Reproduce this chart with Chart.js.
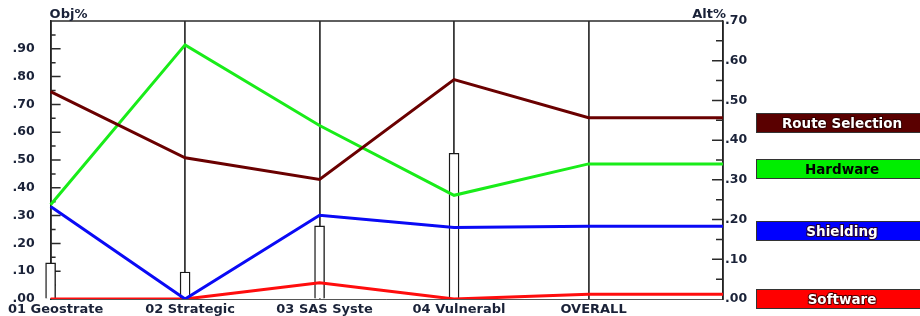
<!DOCTYPE html>
<html>
<head>
<meta charset="utf-8">
<script src="https://cdn.jsdelivr.net/npm/chart.js@4.4.1/dist/chart.umd.min.js"></script>
<style>
  html, body { margin: 0; padding: 0; background: #fff; }
  #wrap { width: 920px; height: 316px; }
</style>
</head>
<body>
<div id="wrap"><canvas id="chart" width="920" height="316"></canvas></div>
<script>
// categories (last slot has no label, OVERALL is carried to the right edge)
const categories = ['01 Geostrate', '02 Strategic', '03 SAS Syste', '04 Vulnerabl', 'OVERALL', ''];

// Obj% series (left axis)
const routeSelection = [0.746, 0.508, 0.430, 0.789, 0.652, 0.652];
const hardware       = [0.339, 0.914, 0.624, 0.373, 0.486, 0.486];
const shielding      = [0.333, 0.000, 0.301, 0.257, 0.262, 0.262];
const software       = [0.000, 0.000, 0.058, 0.000, 0.017, 0.017];

// Alt% bars (right axis)
const altBars = [9.1, 6.8, 18.4, 36.7, null, null];

// tick labels
const objTickLabels = ['.00', '.10', '.20', '.30', '.40', '.50', '.60', '.70', '.80', '.90', ''];
const altTickLabels = ['.00', '.10', '.20', '.30', '.40', '.50', '.60', '.70'];

const seriesNames  = ['Route Selection', 'Hardware', 'Shielding', 'Software'];
const lineColors   = ['#6a0000', '#19ec19', '#0a0af5', '#ff0d0d'];
const boxColors    = ['#5a0000', '#00ee00', '#0000ff', '#ff0000'];
const boxTextColor = ['#ffffff', '#000000', '#ffffff', '#ffffff'];

const navy = '#1a2238';
const labelFont = { family: '"DejaVu Sans", sans-serif', size: 12.5, weight: 'bold' };

// the y scales add tick padding to their top/bottom padding; drop it
function fitY(width) {
  return s => { s.width = width; s.paddingTop = 0; s.paddingBottom = 0; };
}

const decor = {
  id: 'decor',
  beforeDatasetsDraw(chart) {
    const { ctx, chartArea: a, scales } = chart;
    ctx.save();
    ctx.strokeStyle = '#2a2a2a';
    ctx.lineWidth = 1.5;
    // top frame line
    ctx.beginPath();
    ctx.moveTo(a.left, a.top);
    ctx.lineTo(a.right, a.top);
    ctx.stroke();
    // inward tick marks, left axis
    ctx.beginPath();
    for (let i = 1; i < 20; i++) {
      const y = scales.y.getPixelForValue(i * 0.05);
      const len = i % 2 ? 5 : 10;
      ctx.moveTo(a.left, y);
      ctx.lineTo(a.left + len, y);
    }
    // inward tick marks, right axis
    for (let i = 1; i < 14; i++) {
      const y = scales.y2.getPixelForValue(i * 5);
      const len = i % 2 ? 7 : 11;
      ctx.moveTo(a.right, y);
      ctx.lineTo(a.right - len, y);
    }
    ctx.stroke();
    ctx.restore();
  },
  afterDraw(chart) {
    const { ctx, chartArea: a } = chart;
    ctx.save();
    ctx.font = 'bold 13px "DejaVu Sans", sans-serif';
    ctx.fillStyle = navy;
    ctx.textBaseline = 'alphabetic';
    ctx.textAlign = 'left';
    ctx.fillText('Obj%', a.left - 1, 18);
    ctx.textAlign = 'right';
    ctx.fillText('Alt%', a.right + 3, 18);

    // end-of-line labels
    ctx.font = 'bold 13.5px "DejaVu Sans", sans-serif';
    ctx.textAlign = 'center';
    ctx.textBaseline = 'middle';
    for (let i = 0; i < 4; i++) {
      const meta = chart.getDatasetMeta(i);
      const pt = meta.data[meta.data.length - 1];
      const yc = Math.round(pt.y + 5);
      ctx.fillStyle = boxColors[i];
      ctx.fillRect(756, yc - 10, 180, 20);
      ctx.strokeStyle = '#333';
      ctx.lineWidth = 1;
      ctx.strokeRect(756.5, yc - 9.5, 180, 19);
      if (boxTextColor[i] === '#ffffff') {
        ctx.strokeStyle = 'rgba(40,0,0,0.8)';
        ctx.lineWidth = 2;
        ctx.strokeText(seriesNames[i], 842, yc + 1);
      }
      ctx.fillStyle = boxTextColor[i];
      ctx.fillText(seriesNames[i], 842, yc + 1);
    }
    ctx.restore();
  }
};

const lineSets = [routeSelection, hardware, shielding, software].map((d, i) => ({
  type: 'line',
  label: seriesNames[i],
  data: d,
  borderColor: lineColors[i],
  borderWidth: 3,
  pointRadius: 0,
  tension: 0,
  fill: false,
  yAxisID: 'y',
  order: 1
}));

new Chart(document.getElementById('chart'), {
  type: 'line',
  data: {
    labels: categories,
    datasets: [
      ...lineSets,
      {
        type: 'bar',
        label: 'Alt%',
        data: altBars,
        backgroundColor: '#ffffff',
        borderColor: '#1a1a1a',
        borderWidth: 1.4,
        barThickness: 10,
        clip: false,
        yAxisID: 'y2',
        order: 10
      }
    ]
  },
  options: {
    responsive: false,
    animation: false,
    devicePixelRatio: 1,
    layout: { padding: { top: 21, left: 0, right: 0, bottom: 0 } },
    plugins: { legend: { display: false }, tooltip: { enabled: false } },
    scales: {
      x: {
        type: 'category',
        offset: false,
        grid: { offset: false, color: '#383838', lineWidth: 1.8, drawTicks: false },
        border: { color: '#555', width: 1 },
        ticks: {
          font: { family: '"DejaVu Sans", sans-serif', size: 13, weight: 'bold' },
          color: navy,
          padding: 3,
          labelOffset: 5,
          maxRotation: 0,
          autoSkip: false
        },
        afterFit: s => { s.height = 17; }
      },
      y: {
        position: 'left',
        min: 0,
        max: 1,
        grid: { display: true, drawOnChartArea: false, drawTicks: false },
        border: { color: '#222', width: 1.5 },
        ticks: {
          stepSize: 0.1,
          font: labelFont,
          color: navy,
          padding: 16,
          callback: (v, i) => objTickLabels[i]
        },
        afterFit: fitY(48)
      },
      y2: {
        position: 'right',
        min: 0,
        max: 70,
        grid: { display: true, drawOnChartArea: false, drawTicks: false },
        border: { color: '#222', width: 1.5 },
        ticks: {
          stepSize: 10,
          font: labelFont,
          color: navy,
          padding: 2,
          callback: (v, i) => altTickLabels[i]
        },
        afterFit: fitY(197)
      }
    }
  },
  plugins: [decor]
});
</script>
</body>
</html>
